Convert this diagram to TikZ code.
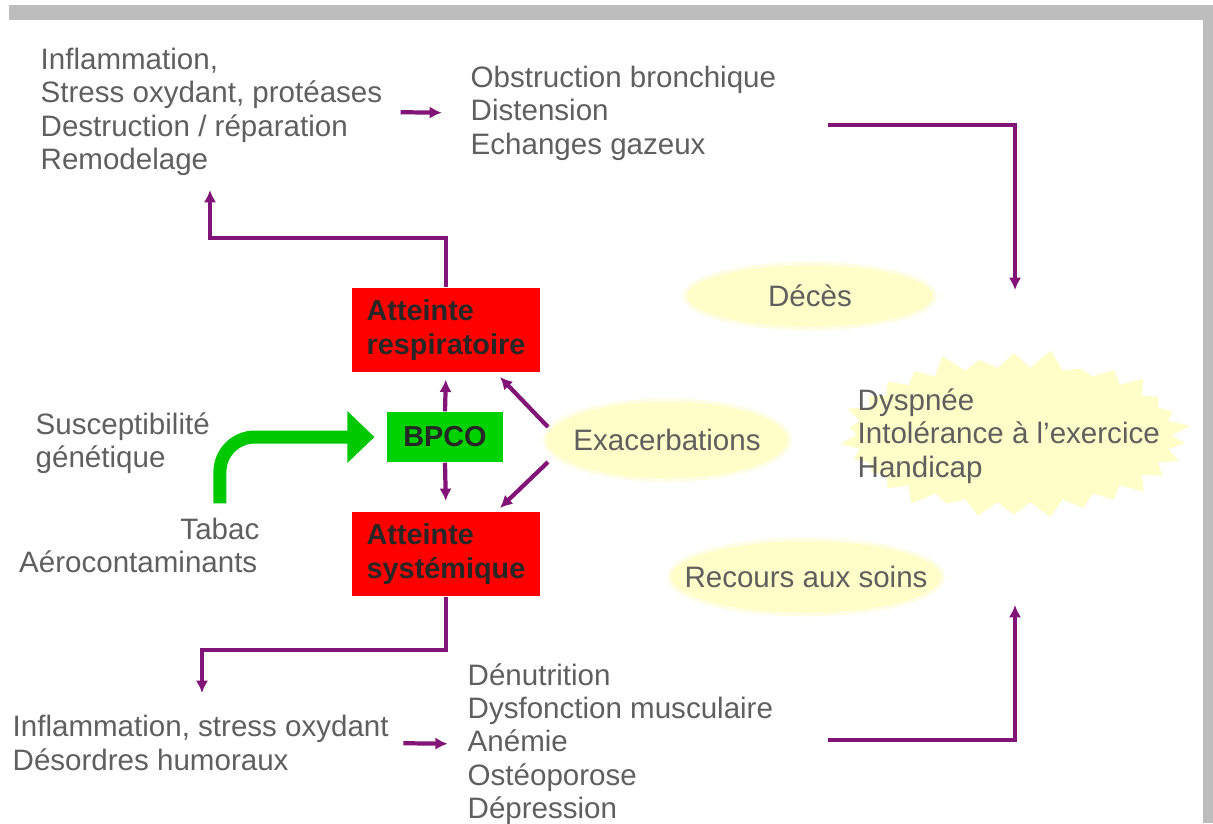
\documentclass[tikz,border=0pt]{standalone}
\usepackage{fontspec}
\setmainfont{Liberation Sans}
\usepackage{tikz}
\usetikzlibrary{arrows.meta, shapes.geometric, shapes.symbols, calc}
\definecolor{txtgray}{RGB}{95, 95, 95}
\definecolor{linkpurple}{RGB}{130, 20, 120}
\definecolor{boxred}{RGB}{255, 0, 0}
\definecolor{boxgreen}{RGB}{0, 210, 0}
\definecolor{arrowgreen}{RGB}{0, 200, 0}
\definecolor{softyellow}{RGB}{255, 253, 200}
\definecolor{framegray}{RGB}{189, 189, 189}

\begin{document}
\begin{tikzpicture}[x=0.01cm, y=-0.01cm,
  txt/.style={font=\fontsize{8.4}{9.5}\selectfont, text=txtgray, align=left, inner sep=0pt},
  box/.style={font=\fontsize{8.2}{9.5}\selectfont\bfseries, align=left, text=black!85},
  link/.style={draw=linkpurple, line width=1.2pt, -{Latex[length=3.5pt,width=3.5pt]}},
  blob/.style={ellipse, fill=softyellow, draw=softyellow!50!white, line width=1pt,
    font=\fontsize{8.4}{9.5}\selectfont, text=txtgray, inner xsep=-7pt}]
  \useasboundingbox (0,0) rectangle (1213,823);

  % Grey frame (top and right)
  \fill[framegray] (9,5) rectangle (1213,20);
  \fill[framegray] (1203,5) rectangle (1213,823);

  % Yellow clouds
  \node[starburst, fill=softyellow, draw=none, minimum width=3.55cm, minimum height=1.75cm,
    starburst points=30, starburst point height=0.2cm] (dysburst) at (1014,435) {};
  \node[blob, minimum width=2.5cm, minimum height=0.65cm] (deces) at (810,296) {Décès};
  \node[blob, minimum width=2.45cm, minimum height=0.8cm] (exa) at (667,440) {Exacerbations};
  \node[blob, minimum width=2.7cm, minimum height=0.75cm] (recours) at (806,577) {Recours aux soins};
  \node[txt, anchor=west] (dys) at (857,436) {Dyspnée\\Intolérance à l'exercice\\Handicap};

  % Central boxes
  \node[box, fill=boxred, minimum width=1.88cm, minimum height=0.75cm] (resp) at (446,330) {Atteinte\\respiratoire};
  \node[box, fill=boxgreen, minimum width=1.15cm, minimum height=0.5cm] (bpco) at (445,437) {BPCO};
  \node[box, fill=boxred, minimum width=1.88cm, minimum height=0.78cm] (sys) at (446,554) {Atteinte\\systémique};

  % Text blocks
  \node[txt, anchor=west] (lungtxt) at (40,112) {Inflammation,\\Stress oxydant, protéases\\Destruction / réparation\\Remodelage};
  \node[txt, anchor=west] (obstxt) at (470,113) {Obstruction bronchique\\Distension\\Echanges gazeux};
  \node[txt, anchor=west] (gentxt) at (35,443) {Susceptibilité\\génétique};
  \node[txt, anchor=east] (aero) at (258,562) {Aérocontaminants};
  \node[txt, anchor=east] (tabac) at (260,529) {Tabac};
  \node[txt, anchor=west] (inflamtxt) at (12,743) {Inflammation, stress oxydant\\Désordres humoraux};
  \node[txt, anchor=west] (deftxt) at (467,744) {Dénutrition\\Dysfonction musculaire\\Anémie\\Ostéoporose\\Dépression};

  % Free ends of the connectors
  \coordinate (lungbend) at (210,238);
  \coordinate (lungtip) at (210,190);
  \coordinate (sysbend) at (202,650);
  \coordinate (systip) at (202,693);
  \coordinate (obsout) at (828,125);
  \coordinate (dystop) at (1015,290);
  \coordinate (defout) at (828,740);
  \coordinate (dysbot) at (1015,605);
  \coordinate (exaup) at (548,427);
  \coordinate (respin) at (500,377);
  \coordinate (exadown) at (548,462);
  \coordinate (sysin) at (500,508);

  % Purple connectors
  \draw[link] (resp.north) |- (lungbend) -- (lungtip);
  \draw[link, shorten <=5pt, shorten >=8pt] (lungtxt.east) -- (obstxt.west);
  \draw[link] (obsout) -| (dystop);
  \draw[link, shorten >=2pt] (bpco.north) -- (resp.south);
  \draw[link, shorten >=3pt] (bpco.south) -- (sys.north);
  \draw[link] (exaup) -- (respin);
  \draw[link] (exadown) -- (sysin);
  \draw[link] (sys.south) |- (sysbend) -- (systip);
  \draw[link, shorten <=4pt, shorten >=5.5pt] (inflamtxt.east) -- (deftxt.west);
  \draw[link] (defout) -| (dysbot);

  % Green arrow into BPCO
  \draw[arrowgreen, line width=0.13cm, rounded corners=0.35cm, shorten <=4pt, shorten >=3.5pt,
    -{Triangle[length=0.27cm,width=0.5cm]}] (tabac.north) |- (bpco.west);
\end{tikzpicture}
\end{document}
